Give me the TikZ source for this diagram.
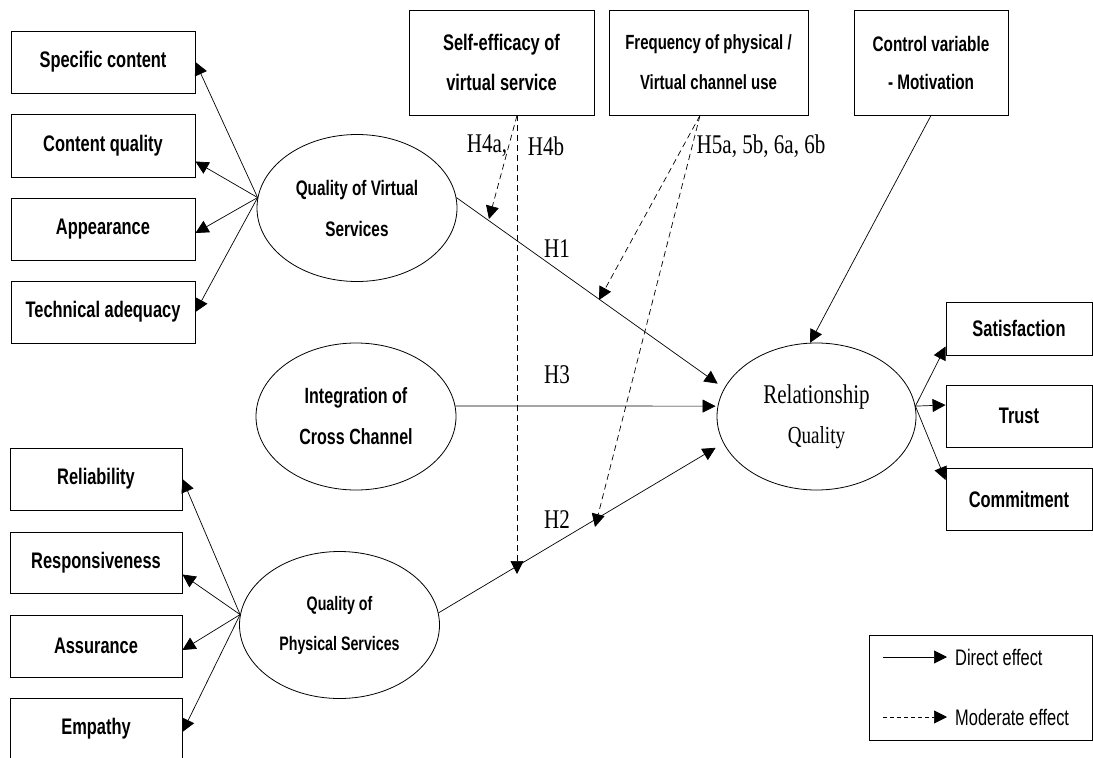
\documentclass[tikz,border=0pt]{standalone}
\usepackage{fontspec}
\usetikzlibrary{arrows.meta,shapes.geometric}
\newfontfamily\nsans[FakeStretch=0.73]{Liberation Sans}
\newfontfamily\nserif[FakeStretch=0.78]{Liberation Serif}
\begin{document}
\begin{tikzpicture}[x=1pt,y=-1pt,
  box/.style={draw, rectangle, line width=0.9pt, inner sep=0pt, align=center,
    font={\nsans\bfseries\fontsize{22.5}{40}\selectfont}},
  ell/.style={draw, ellipse, line width=0.8pt, minimum width=200pt, minimum height=147pt,
    inner sep=0pt, align=center, font={\nsans\bfseries\fontsize{21}{41}\selectfont}},
  hlab/.style={inner sep=0pt, font={\nserif\fontsize{27}{30}\selectfont}},
  leglab/.style={inner sep=0pt, anchor=west, font={\nsans\fontsize{22.5}{25}\selectfont}},
  dir/.style={-{Triangle[length=13pt,width=13pt]}, line width=0.7pt},
  mod/.style={dir, dash pattern=on 6pt off 4pt}]
\fill[white] (0,0) rectangle (1093,758);
\useasboundingbox (0,0) rectangle (1093,758);

% left top boxes
\node[box, minimum width=184pt, minimum height=62pt] (sc) at (103,62) {Specific content};
\node[box, minimum width=184pt, minimum height=63pt] (cq) at (103,145.5) {Content quality};
\node[box, minimum width=184pt, minimum height=62pt] (ap) at (103,229) {Appearance};
\node[box, minimum width=184pt, minimum height=62pt] (ta) at (103,312) {Technical adequacy};
% left bottom boxes
\node[box, minimum width=172pt, minimum height=62pt] (rel) at (96,479) {Reliability};
\node[box, minimum width=172pt, minimum height=61pt] (res) at (96,562.5) {Responsiveness};
\node[box, minimum width=172pt, minimum height=62pt] (asr) at (96,646) {Assurance};
\node[box, minimum width=172pt, minimum height=62pt] (emp) at (96,729) {Empathy};
% top boxes
\node[box, minimum width=185pt, minimum height=105pt] (se) at (501.5,62.5) {Self-efficacy of\\virtual service};
\node[box, minimum width=199pt, minimum height=105pt, font={\nsans\bfseries\fontsize{20.5}{40}\selectfont}] (fr) at (708.5,62.5) {Frequency of physical /\\Virtual channel use};
\node[box, minimum width=154pt, minimum height=105pt, font={\nsans\bfseries\fontsize{21}{38}\selectfont}] (cv) at (931,62.5) {Control variable\\- Motivation};
% right boxes
\node[box, minimum width=146pt, minimum height=53pt] (sat) at (1019,328.5) {Satisfaction};
\node[box, minimum width=146pt, minimum height=62pt] (tru) at (1019,416) {Trust};
\node[box, minimum width=146pt, minimum height=62pt] (com) at (1019,499) {Commitment};
% ellipses
\node[ell] (qvs) at (357,208) {Quality of Virtual\\Services};
\node[ell, font={\nsans\bfseries\fontsize{22}{41}\selectfont}] (ic) at (356,416.5) {Integration of\\Cross Channel};
\node[ell, font={\nsans\bfseries\fontsize{19.5}{40}\selectfont}] (qps) at (339.5,625) {Quality of\\Physical Services};
\node[ell, minimum width=199pt, font={\nserif\fontsize{27}{40}\selectfont}] (rq) at (816.5,416.5) {Relationship\\\fontsize{24.5}{40}\selectfont Quality};

% indicator arrows
\draw[dir] (qvs.174) -- (sc.east);
\draw[dir] (qvs.174) -- ([yshift=-16pt]cq.east);
\draw[dir] (qvs.174) -- ([yshift=-4pt]ap.east);
\draw[dir] (qvs.174) -- (ta.east);
\draw[dir] (qps.174) -- (rel.east);
\draw[dir] (qps.174) -- ([yshift=-12pt]res.east);
\draw[dir] (qps.174) -- ([yshift=-4pt]asr.east);
\draw[dir] (qps.174) -- ([yshift=-3pt]emp.east);
\draw[dir] (rq.6) -- ([yshift=-18pt]sat.west);
\draw[dir] (rq.6) -- ([yshift=11pt]tru.west);
\draw[dir] (rq.6) -- ([yshift=19pt]com.west);

% hypotheses
\draw[dir, shorten >=8pt] (qvs.6) -- (rq.163);
\draw[dir, shorten >=2pt] (ic.6) -- (rq.174);
\draw[dir, shorten >=9pt] (qps.7) -- (rq.196);
\draw[dir] (cv.south) -- (rq.95);

% moderators
\coordinate (m4a) at (489,219);
\coordinate (m4b) at (517,574);
\coordinate (m5a) at (599,300);
\coordinate (m5b) at (595,527);
\draw[mod] ([xshift=15.5pt]se.south) -- (m4a);
\draw[mod] ([xshift=15.5pt]se.south) -- (m4b);
\draw[mod] ([xshift=-8.5pt]fr.south) -- (m5a);
\draw[mod] ([xshift=-8.5pt]fr.south) -- (m5b);

% labels
\node[hlab] (l4a) at (487,146) {H4a,};
\node[hlab] (l4b) at (546,146) {H4b};
\node[hlab] (l5) at (761,146) {H5a, 5b, 6a, 6b};
\node[hlab] (l1) at (557,249) {H1};
\node[hlab] (l3) at (557,375) {H3};
\node[hlab] (l2) at (557,520) {H2};

% legend
\node[draw, line width=0.9pt, minimum width=223pt, minimum height=105pt, inner sep=0pt] (leg) at (980.5,687.5) {};
\coordinate (d1) at (883,657);
\coordinate (d2) at (947,657);
\coordinate (o1) at (883,717);
\coordinate (o2) at (947,717);
\draw[dir] (d1) -- (d2);
\draw[mod, dash pattern=on 4pt off 3pt] (o1) -- (o2);
\node[leglab] (t1) at (955,657) {Direct effect};
\node[leglab] (t2) at (955,717) {Moderate effect};
\end{tikzpicture}
\end{document}
